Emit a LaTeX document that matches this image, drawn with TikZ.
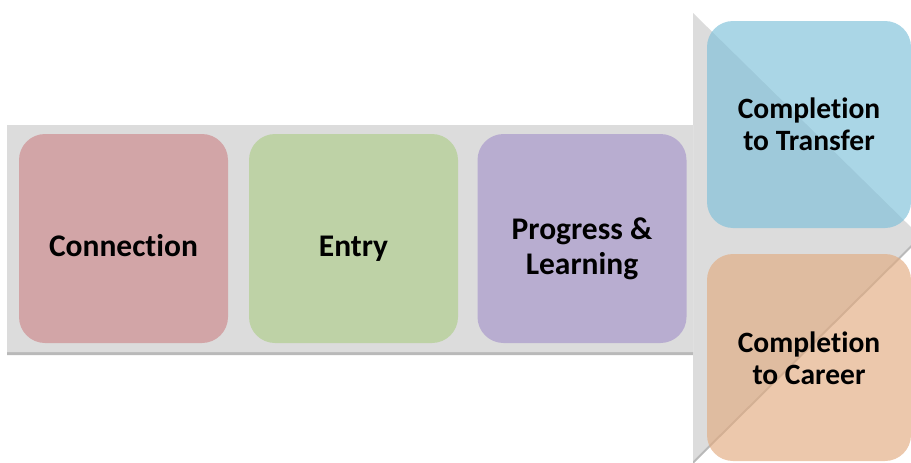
\documentclass[tikz,border=0pt]{standalone}
\usepackage{fontspec}
\setmainfont[RawFeature={-liga;-clig;-dlig}]{Carlito}
\usetikzlibrary{shadows}
\definecolor{bandgray}{RGB}{220,220,220}
\definecolor{cConn}{RGB}{206,137,140}
\definecolor{cEntry}{RGB}{174,206,138}
\definecolor{cProg}{RGB}{166,148,203}
\definecolor{cTrans}{RGB}{125,192,217}
\definecolor{cCareer}{RGB}{226,171,128}
\tikzset{
  stagebox/.style={rounded corners=26pt, minimum width=209pt, minimum height=209pt,
    inner sep=0pt, fill opacity=0.65, draw=none},
  outbox/.style={rounded corners=26pt, minimum width=204pt, minimum height=207pt,
    inner sep=0pt, fill opacity=0.65, draw=none},
  lbl/.style={font=\bfseries\fontsize{31.5}{35}\selectfont, align=center, text=black, inner sep=0pt},
  lblsmall/.style={lbl, font=\bfseries\fontsize{29.5}{32}\selectfont},
}
\begin{document}
\begin{tikzpicture}[x=1pt,y=-1pt]
\useasboundingbox (0,0) rectangle (911,463);
\begin{scope}
\clip (0,0) rectangle (911,463);
% big arrow
\path[fill=bandgray, drop shadow={shadow xshift=0pt, shadow yshift=-3pt, opacity=0.55}]
  (7,125) -- (693,125) -- (693,13) -- (920,236)
  -- (693,461) -- (693,352) -- (7,352) -- cycle;
\draw[white!88!black, line width=0.6pt] (693,125) -- (693,352);
% boxes
\node[stagebox, fill=cConn]  (conn)  at (123.5,238.5) {};
\node[stagebox, fill=cEntry] (entry) at (353.5,238.5) {};
\node[stagebox, fill=cProg]  (prog)  at (582,238.5) {};
\node[outbox, fill=cTrans]   (trans) at (809,124.5) {};
\node[outbox, fill=cCareer]  (career) at (809,357.5) {};
\end{scope}
\node[lbl] (connl)  at ([yshift=-7.5pt]conn.center)  {Connection};
\node[lbl] (entryl) at ([yshift=-10pt]entry.center) {Entry};
\node[lbl] (progl)  at ([yshift=-10pt]prog.center)  {Progress \&\\Learning};
\node[lblsmall] (transl) at ([yshift=0pt]trans.center)  {Completion\\to Transfer};
\node[lblsmall] (carl)   at ([yshift=-1pt]career.center) {Completion\\to Career};
\end{tikzpicture}
\end{document}
